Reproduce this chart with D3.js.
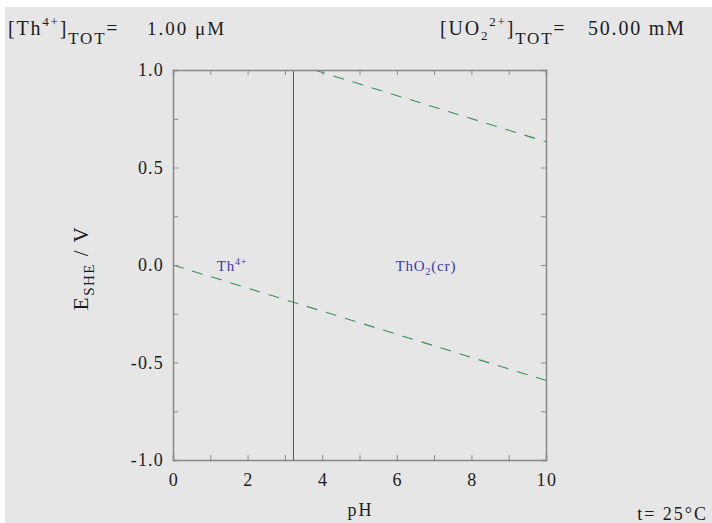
<!DOCTYPE html>
<html>
<head>
<meta charset="utf-8">
<script src="https://cdn.jsdelivr.net/npm/d3@7"></script>
<style>
  html, body { margin: 0; padding: 0; background: #ffffff; }
  svg { display: block; font-family: "Liberation Serif", "Times New Roman", serif; }
</style>
</head>
<body>
<svg id="chart" width="712" height="523"></svg>
<script>
// Pourbaix diagram data: Th at 1.00 µM, 25 °C
const xDomain = [0, 10];
const yDomain = [-1.0, 1.0];
const xTickValues = [0, 2, 4, 6, 8, 10];
const xMinorTicks = [1, 3, 5, 7, 9];
const yTickValues = [-1.0, -0.5, 0.0, 0.5, 1.0];
const yMinorTicks = [-0.75, -0.25, 0.25, 0.75];

// Th4+ / ThO2(cr) boundary (pH)
const boundaryPH = 3.23;

// Water stability lines (dashed): [pH, E]
const h2Line = [[0, 0.0], [10, -0.592]];
const o2Line = [[3.79, 1.0], [10, 0.632]];

// Field labels placed by [pH, E]
const fieldLabels = [
  { main: "Th", sup: "4+", sub: null, rest: "", ph: 1.58, e: 0.0 },
  { main: "ThO", sup: null, sub: "2", rest: "(cr)", ph: 6.78, e: 0.0 }
];

const svg = d3.select("#chart");
const W = 712, H = 523;
const margin = { left: 173, right: 166, top: 70, bottom: 63 };
const ink = "#1c1c1c";

svg.append("rect").attr("x", 5).attr("y", 7).attr("width", W - 5).attr("height", H - 7)
  .attr("fill", "#e6e6e6");

const x = d3.scaleLinear().domain(xDomain).range([margin.left, W - margin.right]);
const y = d3.scaleLinear().domain(yDomain).range([H - margin.bottom, margin.top]);

const axisColor = "#888";
const tickLen = 5;

const g = svg.append("g");

// boundary line
g.append("line")
  .attr("x1", x(boundaryPH)).attr("x2", x(boundaryPH))
  .attr("y1", y(yDomain[0])).attr("y2", y(yDomain[1]))
  .attr("stroke", "#555").attr("stroke-width", 1);

// dashed water lines
const lineGen = d3.line().x(d => x(d[0])).y(d => y(d[1]));
[h2Line, o2Line].forEach(pts => {
  g.append("path").datum(pts).attr("d", lineGen)
    .attr("fill", "none").attr("stroke", "#3a8f5a").attr("stroke-width", 1.1)
    .attr("stroke-dasharray", "11,9");
});

// axes (ticks pointing inward on all sides)
const xAll = xTickValues.concat(xMinorTicks);
const yAll = yTickValues.concat(yMinorTicks);
function styleAxis(sel) {
  sel.selectAll("path").attr("stroke", axisColor).attr("stroke-width", 1.5);
  sel.selectAll("line").attr("stroke", axisColor);
}
g.append("g").attr("transform", `translate(0,${y(yDomain[0])})`)
  .call(d3.axisBottom(x).tickValues(xAll).tickSize(-tickLen).tickFormat("")).call(styleAxis);
g.append("g").attr("transform", `translate(0,${y(yDomain[1])})`)
  .call(d3.axisTop(x).tickValues(xAll).tickSize(-tickLen).tickFormat("")).call(styleAxis);
g.append("g").attr("transform", `translate(${x(xDomain[0])},0)`)
  .call(d3.axisLeft(y).tickValues(yAll).tickSize(-tickLen).tickFormat("")).call(styleAxis);
g.append("g").attr("transform", `translate(${x(xDomain[1])},0)`)
  .call(d3.axisRight(y).tickValues(yAll).tickSize(-tickLen).tickFormat("")).call(styleAxis);

// tick labels
g.selectAll(".xl").data(xTickValues).enter().append("text")
  .attr("x", d => x(d) + 1).attr("y", y(yDomain[0]) + 26)
  .attr("text-anchor", "middle").attr("font-size", 18).attr("letter-spacing", 1.5).attr("fill", ink)
  .text(d => d3.format("d")(d));
g.selectAll(".yl").data(yTickValues).enter().append("text")
  .attr("x", x(xDomain[0]) - 9).attr("y", d => y(d) + 6)
  .attr("text-anchor", "end").attr("font-size", 18).attr("letter-spacing", 1.2).attr("fill", ink)
  .text(d => d.toFixed(1));

// axis titles
svg.append("text").attr("x", x(5) + 1).attr("y", 516).attr("text-anchor", "middle")
  .attr("font-size", 18).attr("letter-spacing", 2).attr("fill", ink).text("pH");

const yt = svg.append("text").attr("transform", `translate(88,${y(0) + 3}) rotate(-90)`)
  .attr("text-anchor", "middle").attr("font-size", 21).attr("letter-spacing", 1.5).attr("fill", ink);
yt.append("tspan").text("E");
yt.append("tspan").attr("font-size", 15).attr("dy", 6).text("SHE");
yt.append("tspan").attr("dy", -6).text(" / V");

// field labels
fieldLabels.forEach(l => {
  const t = svg.append("text").attr("x", x(l.ph)).attr("y", y(l.e) + 6)
    .attr("text-anchor", "middle").attr("font-size", 15).attr("letter-spacing", 0.8).attr("fill", "#3a3ab0");
  t.append("tspan").text(l.main);
  if (l.sup) t.append("tspan").attr("font-size", 10).attr("dy", -6).text(l.sup);
  if (l.sub) {
    t.append("tspan").attr("font-size", 10).attr("dy", 4).text(l.sub);
    t.append("tspan").attr("dy", -4).text(l.rest);
  }
});

// header: total concentrations
function header(x0, parts) {
  const t = svg.append("text").attr("x", x0).attr("y", 35).attr("font-size", 20)
    .attr("letter-spacing", 1.8).attr("fill", ink);
  parts.forEach(p => {
    const s = t.append("tspan").text(p.t);
    if (p.size) s.attr("font-size", p.size);
    if (p.dy) s.attr("dy", p.dy);
  });
}
header(8, [
  { t: "[Th" }, { t: "4+", size: 13, dy: -9 }, { t: "]", dy: 9 },
  { t: "TOT", size: 17, dy: 9 }, { t: "=", dy: -9 }
]);
svg.append("text").attr("x", 147).attr("y", 35).attr("font-size", 19).attr("letter-spacing", 2)
  .attr("fill", ink).text("1.00 μM");

header(440, [
  { t: "[UO" }, { t: "2", size: 13, dy: 5 }, { t: "2+", size: 13, dy: -14 }, { t: "]", dy: 9 },
  { t: "TOT", size: 17, dy: 9 }, { t: "=", dy: -9 }
]);
svg.append("text").attr("x", 588).attr("y", 35).attr("font-size", 20).attr("letter-spacing", 1.8)
  .attr("fill", ink).text("50.00 mM");

// temperature
svg.append("text").attr("x", 708).attr("y", 520).attr("text-anchor", "end")
  .attr("font-size", 18).attr("letter-spacing", 2).attr("fill", ink).text("t= 25°C");
</script>
</body>
</html>
